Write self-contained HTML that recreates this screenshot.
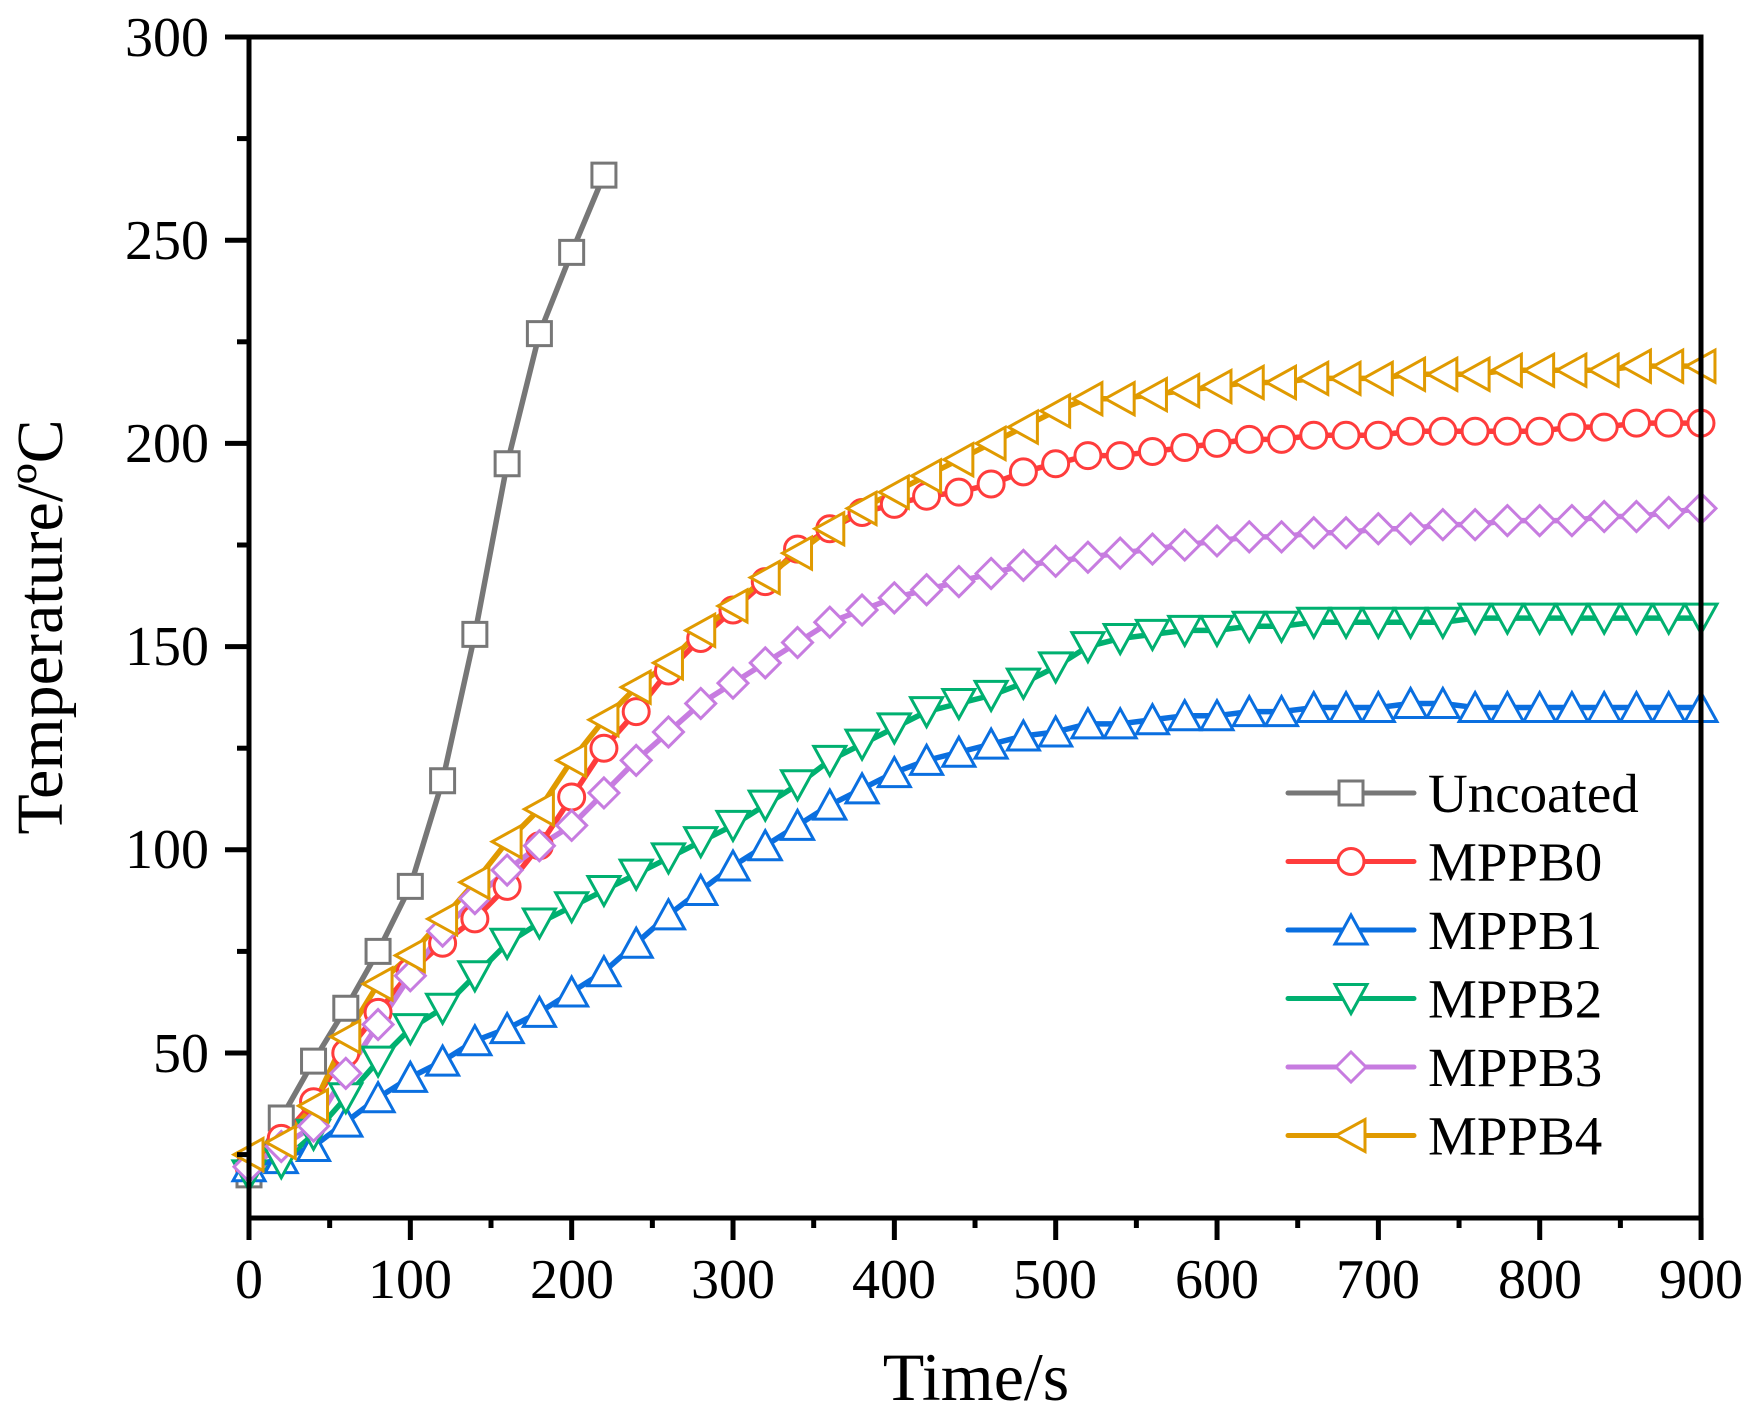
<!DOCTYPE html>
<html><head><meta charset="utf-8"><style>
html,body{margin:0;padding:0;background:#fff;}
svg{display:block;}
text{font-family:"Liberation Serif",serif;fill:#000;}
</style></head><body>
<svg id="c" width="1759" height="1415" viewBox="0 0 1759 1415" xmlns="http://www.w3.org/2000/svg">
<rect width="1759" height="1415" fill="#fff"/>
<g id="series"></g>
<rect x="249" y="37" width="1452" height="1181" fill="none" stroke="#000" stroke-width="5"/>
<g id="ticks" stroke="#000" stroke-width="5"></g>
<g font-size="56" text-anchor="end">
<text x="209" y="56">300</text><text x="209" y="259">250</text><text x="209" y="462">200</text>
<text x="209" y="665">150</text><text x="209" y="868">100</text><text x="209" y="1072">50</text>
</g>
<g font-size="56" text-anchor="middle">
<text x="249" y="1298">0</text><text x="410" y="1298">100</text><text x="572" y="1298">200</text>
<text x="733" y="1298">300</text><text x="894" y="1298">400</text><text x="1055" y="1298">500</text>
<text x="1217" y="1298">600</text><text x="1378" y="1298">700</text><text x="1540" y="1298">800</text>
<text x="1701" y="1298">900</text>
</g>
<text x="976" y="1400" font-size="68" text-anchor="middle">Time/s</text>
<text transform="translate(62,627) rotate(-90)" font-size="66" text-anchor="middle">Temperature/ºC</text>
<g id="legend" font-size="55"></g>
</svg>
<script>
const NS="http://www.w3.org/2000/svg";
const X=t=>249+t*1.6133, Y=v=>37+(300-v)*4.064;
const t=[];for(let i=0;i<=900;i+=20)t.push(i);
const S=[
["Uncoated","#777777","sq",[20,34,48,61,75,91,117,153,195,227,247,266]],
["MPPB0","#ff3c3c","ci",[22,29,38,50,60,70,77,83,91,101,113,125,134,144,152,159,166,174,179,183,185,187,188,190,193,195,197,197,198,199,200,201,201,202,202,202,203,203,203,203,203,204,204,205,205,205]],
["MPPB1","#0a6fe0","up",[22,24,27,33,39,44,48,53,56,60,65,70,77,84,90,96,101,106,111,115,119,122,124,126,128,129,131,131,132,133,133,134,134,135,135,135,136,136,135,135,135,135,135,135,135,135]],
["MPPB2","#00b070","dn",[20,23,30,39,48,56,61,69,77,82,86,90,94,98,102,106,111,116,122,126,130,134,136,138,141,145,150,152,153,154,154,155,155,156,156,156,156,156,157,157,157,157,157,157,157,157]],
["MPPB3","#c77ce0","di",[22,27,32,45,57,69,80,88,95,101,106,114,122,129,136,141,146,151,156,159,162,164,166,168,170,171,172,173,174,175,176,177,177,178,178,179,179,180,180,181,181,181,182,182,183,184]],
["MPPB4","#e09a00","lt",[25,28,37,54,67,74,83,92,102,110,122,132,140,146,154,160,167,173,179,184,188,192,196,200,204,208,211,211,212,213,214,215,215,216,216,216,217,217,217,218,218,218,218,219,219,219]]
];
function mk(type,x,y,c){
  let e,r=12;
  if(type=="ci"){e=document.createElementNS(NS,"circle");e.setAttribute("cx",x);e.setAttribute("cy",y);e.setAttribute("r",13);}
  else{e=document.createElementNS(NS,"polygon");let p;
    if(type=="sq")p=[[x-r,y-r],[x+r,y-r],[x+r,y+r],[x-r,y+r]];
    if(type=="up")p=[[x,y-15],[x+16,y+14],[x-16,y+14]];
    if(type=="dn")p=[[x,y+15],[x+16,y-14],[x-16,y-14]];
    if(type=="di")p=[[x,y-15],[x+15,y],[x,y+15],[x-15,y]];
    if(type=="lt")p=[[x-15,y],[x+14,y-16],[x+14,y+16]];
    e.setAttribute("points",p.map(a=>a.join(",")).join(" "));}
  e.setAttribute("fill","#fff");e.setAttribute("stroke",c);e.setAttribute("stroke-width","3");
  return e;
}
const g=document.getElementById("series");
S.forEach(s=>{
  const pts=s[3].map((v,i)=>[X(t[i]),Y(v)]);
  const pl=document.createElementNS(NS,"polyline");
  pl.setAttribute("points",pts.map(a=>a.join(",")).join(" "));
  pl.setAttribute("fill","none");pl.setAttribute("stroke",s[1]);pl.setAttribute("stroke-width","5.5");pl.setAttribute("stroke-linejoin","round");
  g.appendChild(pl);
});
S.forEach(s=>{s[3].forEach((v,i)=>g.appendChild(mk(s[2],X(t[i]),Y(v),s[1])));});
const tk=document.getElementById("ticks");
function ln(x1,y1,x2,y2){const l=document.createElementNS(NS,"line");l.setAttribute("x1",x1);l.setAttribute("y1",y1);l.setAttribute("x2",x2);l.setAttribute("y2",y2);tk.appendChild(l);}
for(let i=0;i<=18;i++){const x=249+i*80.67;ln(x,1218,x,i%2?1228:1240);}
for(let v=300;v>=25;v-=25){const y=Y(v);ln(249,y,v%50?237:225,y);}
const lg=document.getElementById("legend");
S.forEach((s,i)=>{const y=793+i*68.5;
  const l=document.createElementNS(NS,"line");l.setAttribute("x1",1288);l.setAttribute("x2",1414);l.setAttribute("y1",y);l.setAttribute("y2",y);
  l.setAttribute("stroke",s[1]);l.setAttribute("stroke-width","5");l.setAttribute("stroke-linecap","round");lg.appendChild(l);
  lg.appendChild(mk(s[2],1351,y,s[1]));
  const tx=document.createElementNS(NS,"text");tx.setAttribute("x",1428);tx.setAttribute("y",y+19);tx.textContent=s[0];lg.appendChild(tx);
});
</script>
</body></html>
